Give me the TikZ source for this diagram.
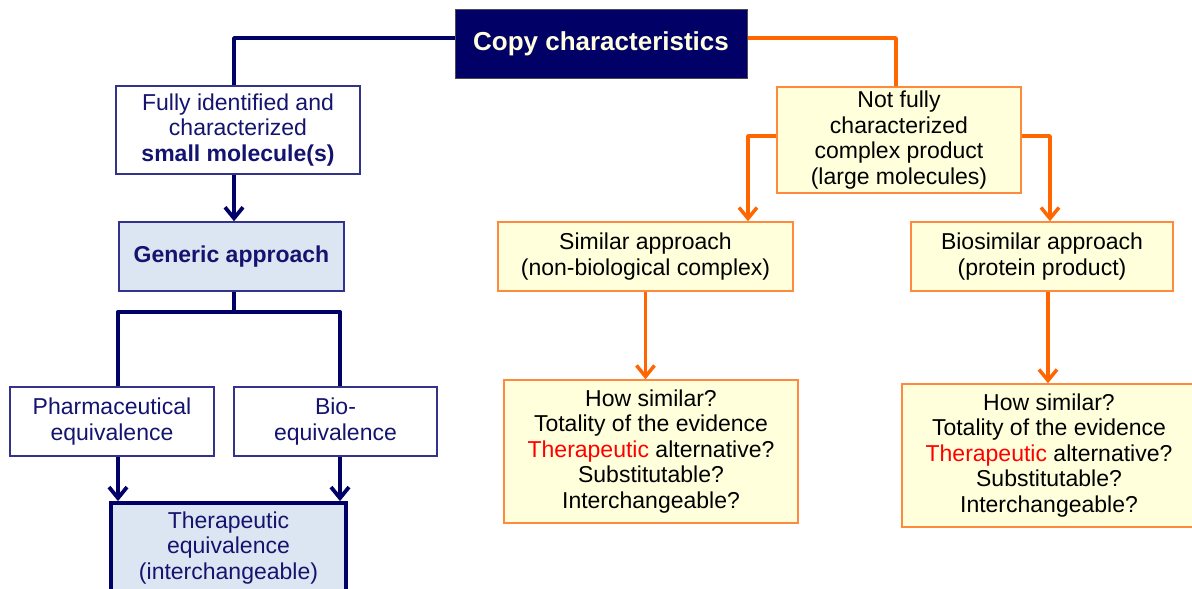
\documentclass[tikz,border=0pt]{standalone}
\usepackage{fontspec}
\setmainfont{Liberation Sans}
\usetikzlibrary{arrows.meta}
\definecolor{navy}{HTML}{000066}
\definecolor{navyborder}{HTML}{33338C}
\definecolor{navytext}{HTML}{141470}
\definecolor{lightblue}{HTML}{DCE6F2}
\definecolor{orangeline}{HTML}{FF6600}
\definecolor{orangeborder}{HTML}{FF8A3D}
\definecolor{lightyellow}{HTML}{FFFFDC}
\definecolor{titletext}{HTML}{FFFFDD}
\begin{document}
\begin{tikzpicture}[x=1pt,y=-1pt,
  font=\fontsize{23}{25.5}\selectfont,
  every node/.style={inner sep=0pt, align=center},
  titlebox/.style={draw=black!70, line width=1pt, fill=navy, text=titletext, font=\fontsize{26}{29}\selectfont\bfseries},
  bluebox/.style={draw=navyborder, line width=1.5pt, fill=white, text=navytext},
  bluefill/.style={bluebox, fill=lightblue},
  orangebox/.style={draw=orangeborder, line width=1.5pt, fill=lightyellow, text=black},
  navyline/.style={draw=navy, line width=3.8pt, line join=round},
  navyarrow/.style={navyline, -{Straight Barb[length=11pt,width=18pt,line width=3.8pt]}},
  orline/.style={draw=orangeline, line width=3.5pt, line join=round},
  orarrow/.style={orline, -{Straight Barb[length=11pt,width=18pt,line width=3.5pt]}}
]
\useasboundingbox (0,0) rectangle (1192,589);

% nodes
\node[titlebox, minimum width=292pt, minimum height=69pt] (top) at (601,43.5) {Copy characteristics};
\node[bluebox, minimum width=244pt, minimum height=88pt] (fully) at (238,130) {Fully identified and\\characterized\\\textbf{small molecule(s)}};
\node[bluefill, minimum width=225pt, minimum height=69pt, font=\fontsize{23}{25.5}\selectfont\bfseries] (generic) at (231.5,256.5) {Generic approach};
\node[bluebox, minimum width=204pt, minimum height=69pt] (pharma) at (112,421.5) {Pharmaceutical\\equivalence};
\node[bluebox, minimum width=203pt, minimum height=69pt] (bio) at (335.5,421.5) {Bio-\\equivalence};
\node[bluefill, draw=navy, line width=3.8pt, minimum width=235pt, minimum height=90pt] (thera) at (228.5,548) {Therapeutic\\equivalence\\(interchangeable)};

\node[orangebox, minimum width=244pt, minimum height=106pt] (notfully) at (899,140) {Not fully\\characterized\\complex product\\(large molecules)};
\node[orangebox, minimum width=295pt, minimum height=69pt] (similar) at (645.5,256.5) {Similar approach\\(non-biological complex)};
\node[orangebox, minimum width=262pt, minimum height=69pt] (biosim) at (1042,256.5) {Biosimilar approach\\(protein product)};
\node[orangebox, minimum width=294pt, minimum height=143pt] (how1) at (651,451.5) {How similar?\\Totality of the evidence\\\textcolor{red}{Therapeutic} alternative?\\Substitutable?\\Interchangeable?};
\node[orangebox, minimum width=294pt, minimum height=143pt] (how2) at (1049,455.5) {How similar?\\Totality of the evidence\\\textcolor{red}{Therapeutic} alternative?\\Substitutable?\\Interchangeable?};

% navy connectors
\draw[navyline] ([yshift=5.5pt]top.west) -| ([xshift=-4pt]fully.north);
\draw[navyarrow] ([xshift=-4pt]fully.south) -- ([xshift=2.5pt]generic.north);
\coordinate (split) at ([xshift=2.5pt,yshift=-20pt]generic.south);
\draw[navyline] ([xshift=2.5pt]generic.south) -- (split);
\draw[navyline] ([xshift=6pt]pharma.north) |- (split) -| ([xshift=4.5pt]bio.north);
\coordinate (pa) at ([xshift=6pt]pharma.south);
\coordinate (ba) at ([xshift=4.5pt]bio.south);
\draw[navyarrow] (pa) -- (pa |- thera.north);
\draw[navyarrow] (ba) -- (ba |- thera.north);

% orange connectors
\draw[orline] ([yshift=5.5pt]top.east) -| ([xshift=-3pt]notfully.north);
\draw[orarrow] ([yshift=4pt]notfully.west) -| ([xshift=102.5pt]similar.north);
\draw[orarrow] ([yshift=4pt]notfully.east) -| ([xshift=8pt]biosim.north);
\coordinate (sa) at (similar.south);
\coordinate (bs) at ([xshift=6pt]biosim.south);
\draw[orarrow] (sa) -- (sa |- how1.north);
\draw[orarrow] (bs) -- (bs |- how2.north);
\end{tikzpicture}
\end{document}
